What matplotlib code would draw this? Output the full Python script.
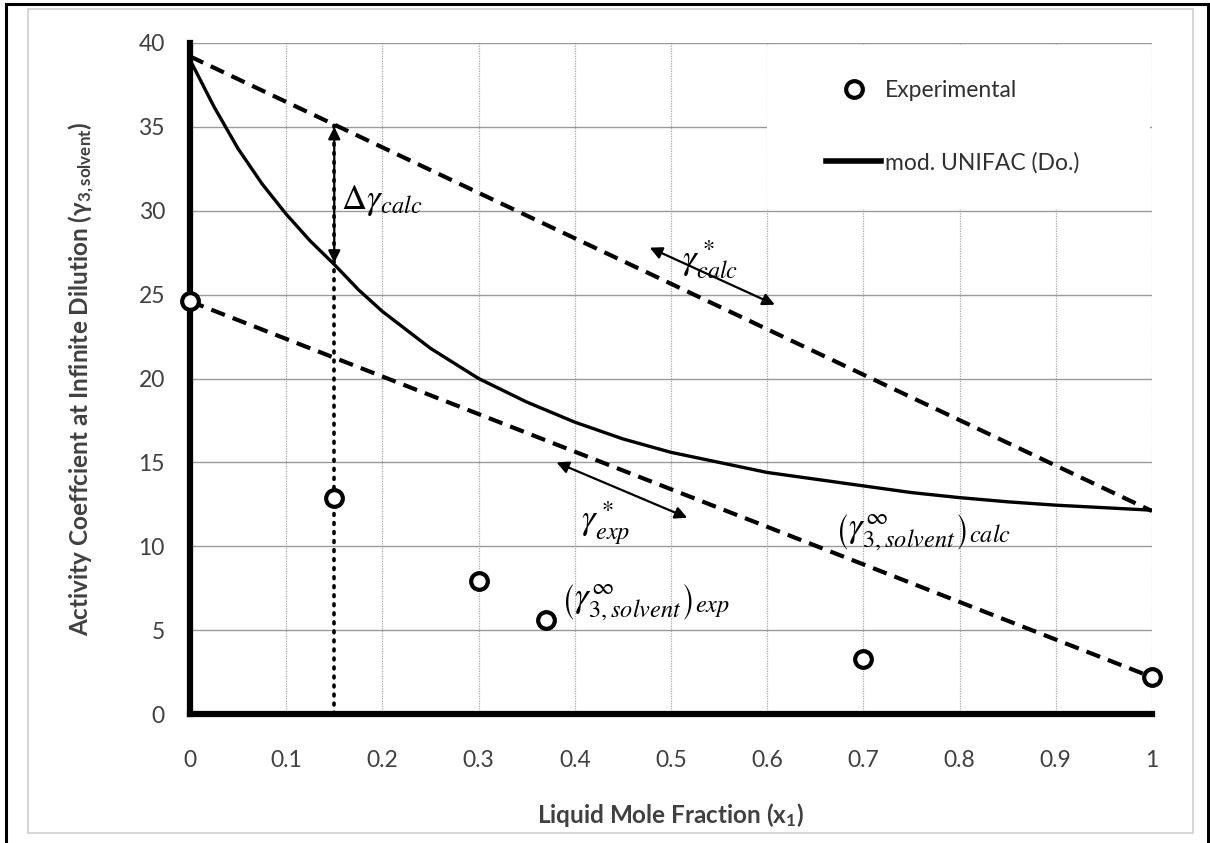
import numpy as np
import matplotlib.pyplot as plt
from matplotlib.patches import Rectangle

plt.rcParams['font.family'] = ['Lato', 'DejaVu Sans']
plt.rcParams['mathtext.fontset'] = 'stix'

# experimental activity coefficients
x_exp = [0.0, 0.15, 0.3, 0.37, 0.7, 1.0]
gamma_exp = [24.6, 12.9, 7.9, 5.6, 3.3, 2.2]

# mod. UNIFAC (Do.) curve
x_calc = [0.0, 0.025, 0.05, 0.075, 0.1, 0.125, 0.15, 0.175, 0.2, 0.25, 0.3, 0.35,
          0.4, 0.45, 0.5, 0.55, 0.6, 0.65, 0.7, 0.75, 0.8, 0.85, 0.9, 0.95, 1.0]
gamma_calc = [39.0, 36.2, 33.7, 31.6, 29.8, 28.2, 26.8, 25.3, 24.0, 21.8, 20.0, 18.6,
              17.4, 16.4, 15.6, 15.0, 14.4, 14.0, 13.6, 13.2, 12.9, 12.65, 12.45, 12.3, 12.15]

# straight lines between the end points
x_line = [0.0, 1.0]
calc_star = [39.2, 12.1]
exp_star = [24.6, 2.2]

x_mark = 0.15
xticks = [0, 0.1, 0.2, 0.3, 0.4, 0.5, 0.6, 0.7, 0.8, 0.9, 1]
xticklabels = ['0', '0.1', '0.2', '0.3', '0.4', '0.5', '0.6', '0.7', '0.8', '0.9', '1']
yticks = [0, 5, 10, 15, 20, 25, 30, 35, 40]

fig = plt.figure(figsize=(12.1, 8.43), dpi=100)
ax = fig.add_axes([0.157, 0.153, 0.795, 0.796])

# frame around the picture
fig.patches.append(Rectangle((0.023, 0.012), 0.963, 0.977, transform=fig.transFigure,
                             fill=False, edgecolor='#d0d0d0', lw=1.2))
fig.patches.append(Rectangle((0.005, -0.01), 0.993, 1.005, transform=fig.transFigure,
                             fill=False, edgecolor='black', lw=2.2))

ax.set_axisbelow(True)
ax.yaxis.grid(True, color='#9a9a9a', lw=1.0, ls='-')
ax.xaxis.grid(True, color='#a8a8a8', lw=0.9, ls=(0, (1, 1)))

# white box behind legend
ax.add_patch(Rectangle((0.6, 30.1), 0.398, 9.8, facecolor='white', edgecolor='none', zorder=0.8))

ax.plot(x_line, calc_star, color='black', lw=3, ls=(0, (3.5, 2)), zorder=3)
ax.plot(x_line, exp_star, color='black', lw=3, ls=(0, (3.5, 2)), zorder=3)
ax.plot(x_calc, gamma_calc, color='black', lw=2.4, zorder=3, solid_joinstyle='round',
        label='mod. UNIFAC (Do.)')
ax.plot([x_mark, x_mark], [0, calc_star[0] + (calc_star[1] - calc_star[0]) * x_mark],
        color='black', lw=2.6, ls=(0, (0.5, 2.0)), dash_capstyle='round', zorder=2)
ax.plot(x_exp, gamma_exp, ls='none', marker='o', ms=12, mfc='white', mec='black',
        mew=3, zorder=6, clip_on=False, label='Experimental')

arrow = dict(arrowstyle='<|-|>', mutation_scale=18, lw=1.6, color='black',
             shrinkA=0, shrinkB=0)
ax.annotate('', xy=(0.15, 35.0), xytext=(0.15, 26.9), arrowprops=arrow, zorder=6)
ax.annotate('', xy=(0.478, 27.8), xytext=(0.608, 24.4), arrowprops=arrow, zorder=6)
ax.annotate('', xy=(0.381, 15.0), xytext=(0.517, 11.7), arrowprops=arrow, zorder=6)

ax.text(0.157, 30.6, r'$\Delta\gamma_{calc}$', fontsize=25, va='center', ha='left')
ax.text(0.512, 27.1, r'$\gamma^*_{calc}$', fontsize=25, va='center', ha='left')
ax.text(0.407, 11.4, r'$\gamma^*_{exp}$', fontsize=25, va='center', ha='left')
ax.text(0.386, 6.6, r'$\left(\gamma^{\infty}_{3,solvent}\right)_{exp}$', fontsize=25,
        va='center', ha='left')
ax.text(0.671, 10.8, r'$\left(\gamma^{\infty}_{3,solvent}\right)_{calc}$', fontsize=25,
        va='center', ha='left')

ax.set_xlim(0, 1)
ax.set_ylim(0, 40)
ax.set_xticks(xticks)
ax.set_xticklabels(xticklabels)
ax.set_yticks(yticks)
ax.tick_params(axis='both', length=0, labelsize=16.5, labelcolor='#404040')
ax.tick_params(axis='x', pad=26)
ax.tick_params(axis='y', pad=18)

for s in ['top', 'right']:
    ax.spines[s].set_visible(False)
for s in ['left', 'bottom']:
    ax.spines[s].set_linewidth(4.5)
    ax.spines[s].set_color('black')
    ax.spines[s].set_capstyle('projecting')

ax.set_xlabel(r'Liquid Mole Fraction ($\mathregular{x_1}$)', fontsize=17.5,
              fontweight='bold', color='#404040')
ax.set_ylabel(r'Activity Coeffcient at Infinite Dilution ($\mathregular{\gamma_{3,solvent}}$)',
              fontsize=17.5, fontweight='bold', color='#404040')
ax.xaxis.set_label_coords(0.5, -0.13)
ax.yaxis.set_label_coords(-0.097, 0.5)

h, l = ax.get_legend_handles_labels()
leg = ax.legend(h[::-1], l[::-1], loc='center', bbox_to_anchor=(0.793, 0.875), frameon=False,
                fontsize=16.5, labelspacing=2.2, handlelength=2.4, handletextpad=0.15,
                labelcolor='#303030')
leg.get_lines()[1].set_linewidth(4)

fig.savefig('out.png', dpi=100)
